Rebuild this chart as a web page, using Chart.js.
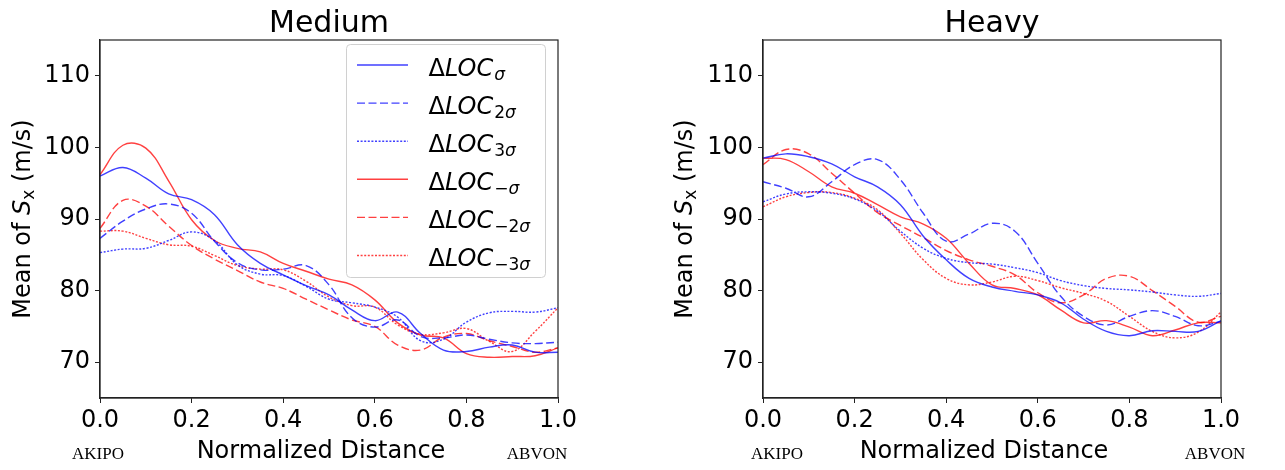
<!DOCTYPE html>
<html>
<head>
<meta charset="utf-8">
<script src="https://cdn.jsdelivr.net/npm/chart.js@4.4.0/dist/chart.umd.min.js"></script>
<style>
    html, body { margin: 0; padding: 0; background: #fff; }
    #wrap { position: relative; width: 1285px; height: 470px; overflow: hidden; }
    #c1 { position: absolute; left: 0; top: 0; }
    #c2 { position: absolute; left: 640px; top: 0; }
</style>
</head>
<body>
<div id="wrap">
    <canvas id="c1" width="640" height="470"></canvas>
    <canvas id="c2" width="645" height="470"></canvas>
</div>
<script>
// normalized distance samples
const distance = [0, 0.05, 0.1, 0.15, 0.2, 0.25, 0.3, 0.35, 0.4, 0.45, 0.5,
                  0.55, 0.6, 0.65, 0.7, 0.75, 0.8, 0.85, 0.9, 0.95, 1.0];
const xTicks = [0, 0.2, 0.4, 0.6, 0.8, 1.0];
const yTicks = [70, 80, 90, 100, 110];

// Medium
const medSigma    = [96.0, 97.2, 95.7, 93.5, 92.7, 90.6, 86.4, 83.8, 82.2, 80.7, 79.4, 77.3, 75.8, 77.0, 74.0, 71.7, 71.5, 72.1, 72.4, 71.4, 71.4];
const med2Sigma   = [87.3, 89.7, 91.4, 92.1, 90.8, 86.9, 83.9, 82.9, 83.0, 83.5, 80.8, 76.2, 74.9, 75.9, 73.6, 73.4, 73.8, 73.2, 72.7, 72.6, 72.8];
const med3Sigma   = [85.3, 85.8, 85.9, 87.0, 88.2, 87.0, 83.6, 82.3, 82.1, 80.6, 78.8, 78.3, 77.7, 76.3, 73.0, 73.2, 75.6, 76.9, 77.1, 77.0, 77.6];
const medNegSigma = [96.2, 100.3, 99.9, 95.3, 89.9, 87.0, 85.9, 85.4, 83.8, 82.7, 81.6, 80.8, 78.7, 75.5, 73.8, 73.4, 71.2, 70.7, 70.8, 70.9, 72.0];
const medNeg2     = [88.7, 92.6, 91.8, 89.0, 86.3, 84.4, 82.8, 81.2, 80.3, 78.8, 77.3, 75.9, 75.0, 72.4, 71.7, 73.5, 74.0, 73.0, 72.2, 71.4, 72.0];
const medNeg3     = [88.3, 88.3, 87.3, 86.4, 86.2, 84.9, 83.5, 83.0, 82.9, 81.3, 79.1, 77.9, 77.7, 75.2, 73.9, 74.1, 74.7, 72.9, 71.5, 74.3, 77.6];

// Heavy
const hvySigma    = [98.5, 99.1, 98.7, 97.7, 95.9, 94.5, 92.0, 87.6, 84.3, 81.7, 80.5, 79.9, 79.4, 78.3, 76.0, 74.3, 73.7, 74.4, 74.3, 74.3, 75.8];
const hvy2Sigma   = [95.2, 94.3, 93.1, 95.2, 97.6, 98.3, 95.5, 90.8, 86.9, 87.9, 89.4, 88.3, 83.8, 79.2, 76.4, 75.2, 76.4, 77.2, 76.4, 75.1, 75.7];
const hvy3Sigma   = [92.4, 93.5, 93.8, 93.6, 92.8, 91.1, 88.3, 85.9, 84.5, 83.9, 83.7, 83.2, 82.5, 81.4, 80.7, 80.3, 80.1, 79.8, 79.4, 79.2, 79.6];
const hvyNegSigma = [98.5, 98.3, 96.6, 94.5, 93.6, 92.0, 90.3, 89.3, 87.3, 83.8, 80.8, 80.3, 79.4, 77.3, 75.5, 75.8, 74.9, 73.7, 74.5, 75.5, 75.5];
const hvyNeg2     = [97.6, 99.7, 99.1, 96.4, 93.6, 90.9, 89.1, 87.4, 85.6, 84.3, 83.4, 82.2, 79.7, 78.3, 79.4, 81.7, 82.0, 80.0, 77.8, 75.6, 76.4];
const hvyNeg3     = [91.7, 93.1, 93.7, 93.7, 92.9, 91.3, 88.0, 84.3, 81.7, 80.8, 81.2, 82.0, 81.4, 80.4, 79.6, 78.5, 76.4, 74.3, 73.4, 74.2, 77.0];

// legend subscripts, colours and dash styles (same order as the series)
const seriesSubs = ['σ', '2σ', '3σ', '−σ', '−2σ', '−3σ'];
const BLUE = 'rgba(0, 0, 255, 0.75)';
const RED = 'rgba(255, 0, 0, 0.75)';
const seriesColors = [BLUE, BLUE, BLUE, RED, RED, RED];
const seriesDash = [[], [8, 3.5], [2, 1.6], [], [8, 3.5], [2, 1.6]];

const FONT = '"DejaVu Sans", sans-serif';

function drawSubText(ctx, x, y, sub, size) {
    // subscript: σ is italic, digits and minus are upright
    for (const ch of sub) {
        ctx.font = (ch === 'σ' ? 'italic ' : '') + size + 'px ' + FONT;
        ctx.fillText(ch, x, y);
        x += ctx.measureText(ch).width;
    }
    return x;
}

function drawLegend(ctx) {
    const left = 346.5, top = 44.5, w = 199, h = 233;
    ctx.save();
    ctx.fillStyle = 'rgba(255,255,255,0.8)';
    ctx.strokeStyle = '#d0d0d0';
    ctx.lineWidth = 1;
    ctx.beginPath();
    ctx.roundRect(left, top, w, h, 4);
    ctx.fill();
    ctx.stroke();
    ctx.textBaseline = 'alphabetic';
    ctx.textAlign = 'left';
    seriesSubs.forEach((sub, i) => {
        const ly = 65 + i * 38.1;
        ctx.strokeStyle = seriesColors[i];
        ctx.lineWidth = 1.4;
        ctx.setLineDash(seriesDash[i]);
        ctx.beginPath();
        ctx.moveTo(357, ly);
        ctx.lineTo(408, ly);
        ctx.stroke();
        ctx.setLineDash([]);
        ctx.fillStyle = '#000';
        let x = 428.5;
        const base = ly + 10.7;
        ctx.font = '24px ' + FONT;
        ctx.fillText('Δ', x, base);
        x += ctx.measureText('Δ').width;
        ctx.font = 'italic 24px ' + FONT;
        ctx.fillText('LOC', x, base);
        x += ctx.measureText('LOC').width;
        drawSubText(ctx, x + 1, base + 4, sub, 17);
    });
    ctx.restore();
}

function decorPlugin(cfg) {
    return {
        id: 'decor',
        afterDatasetsDraw(chart) {
            if (cfg.legend) drawLegend(chart.ctx);
        },
        afterDraw(chart) {
            const ctx = chart.ctx;
            const a = chart.chartArea;
            ctx.save();
            // frame
            ctx.strokeStyle = '#222';
            ctx.lineWidth = 1.2;
            ctx.strokeRect(a.left, a.top, a.right - a.left, a.bottom - a.top);

            ctx.fillStyle = '#000';
            ctx.textBaseline = 'alphabetic';
            ctx.textAlign = 'center';
            // title
            ctx.font = '30px ' + FONT;
            ctx.fillText(cfg.title, (a.left + a.right) / 2, 31.5);
            // x label
            ctx.font = '24px ' + FONT;
            ctx.fillText('Normalized Distance', cfg.xLabelX, 458);
            // endpoints
            ctx.font = '17px "Liberation Serif", serif';
            ctx.fillText('AKIPO', cfg.startX, 459);
            ctx.fillText('ABVON', cfg.endX, 459);

            // y label with italic S and subscript x
            ctx.translate(cfg.yLabelX, (a.top + a.bottom) / 2);
            ctx.rotate(-Math.PI / 2);
            ctx.textAlign = 'left';
            const parts = [
                { t: 'Mean of ', f: '24px ' + FONT, dy: 0 },
                { t: 'S', f: 'italic 24px ' + FONT, dy: 0 },
                { t: 'x', f: '17px ' + FONT, dy: 4 },
                { t: ' (m/s)', f: '24px ' + FONT, dy: 0 }
            ];
            let total = 0;
            parts.forEach(p => { ctx.font = p.f; p.w = ctx.measureText(p.t).width; total += p.w; });
            let x = -total / 2;
            parts.forEach(p => { ctx.font = p.f; ctx.fillText(p.t, x, p.dy); x += p.w; });
            ctx.restore();
        }
    };
}

function makeChart(id, series, cfg) {
    const datasets = series.map((vals, i) => ({
        label: 'ΔLOC' + seriesSubs[i],
        data: distance.map((d, j) => ({ x: d, y: vals[j] })),
        borderColor: seriesColors[i],
        borderDash: seriesDash[i],
        borderWidth: 1.4,
        pointRadius: 0,
        tension: 0.4,
        fill: false
    }));
    const tickFont = { family: 'DejaVu Sans', size: 24 };
    return new Chart(document.getElementById(id).getContext('2d'), {
        type: 'line',
        data: { datasets },
        options: {
            responsive: false,
            animation: false,
            devicePixelRatio: 1,
            layout: { padding: { top: 40, right: cfg.padRight, left: 0, bottom: 0 } },
            plugins: { legend: { display: false }, tooltip: { enabled: false }, title: { display: false } },
            scales: {
                x: {
                    type: 'linear', min: 0, max: 1,
                    afterBuildTicks: s => { s.ticks = xTicks.map(v => ({ value: v })); },
                    afterFit: s => { s.height = 72; },
                    ticks: { callback: v => v.toFixed(1), font: tickFont, color: '#000', padding: 3, maxRotation: 0, autoSkip: false },
                    grid: { display: true, drawOnChartArea: false, drawTicks: true, tickLength: 5, tickColor: '#222', color: '#222' },
                    border: { display: true, color: '#222', width: 1.2 }
                },
                y: {
                    type: 'linear', min: 65, max: 115,
                    afterBuildTicks: s => { s.ticks = yTicks.map(v => ({ value: v })); },
                    afterFit: s => { s.width = cfg.yWidth; },
                    ticks: { font: tickFont, color: '#000', padding: 5 },
                    grid: { display: true, drawOnChartArea: false, drawTicks: true, tickLength: 5, tickColor: '#222', color: '#222' },
                    border: { display: true, color: '#222', width: 1.2 }
                }
            }
        },
        plugins: [decorPlugin(cfg)]
    });
}

makeChart('c1', [medSigma, med2Sigma, med3Sigma, medNegSigma, medNeg2, medNeg3], {
    title: 'Medium', yWidth: 100, padRight: 82, legend: true,
    xLabelX: 321, startX: 98, endX: 537, yLabelX: 29.5
});
makeChart('c2', [hvySigma, hvy2Sigma, hvy3Sigma, hvyNegSigma, hvyNeg2, hvyNeg3], {
    title: 'Heavy', yWidth: 123, padRight: 64, legend: false,
    xLabelX: 344, startX: 137, endX: 575, yLabelX: 51.5
});
</script>
</body>
</html>
